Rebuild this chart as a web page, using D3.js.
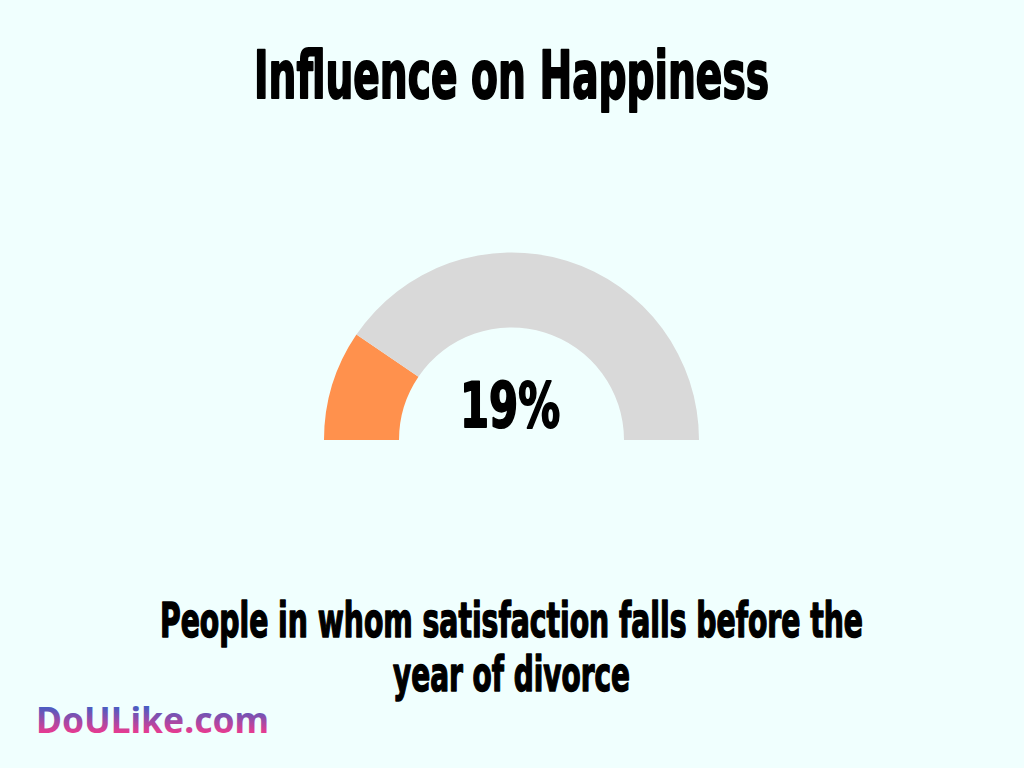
<!DOCTYPE html>
<html>
<head>
<meta charset="utf-8">
<script src="https://cdn.jsdelivr.net/npm/d3@7"></script>
<style>
html,body{margin:0;padding:0;background:#F0FFFE;}
svg{display:block;}
</style>
</head>
<body>
<svg id="chart" width="1024" height="768"></svg>
<script>
const title = "Influence on Happiness";
const value = [19];
const total = [100];
const valueLabel = ["19%"];
const subtitleLines = ["People in whom satisfaction falls before the", "year of divorce"];
const watermark = "DoULike.com";

const W = 1024, H = 768;
const svg = d3.select("#chart");
svg.append("rect").attr("width", W).attr("height", H).attr("fill", "#F0FFFE");

const FONT = "'Liberation Sans Narrow','DejaVu Sans Condensed','Arial Narrow',sans-serif";

// gauge
const cx = 511.5, cy = 440, rOuter = 187.5, rInner = 112.5;
const angle = d3.scaleLinear().domain([0, total[0]]).range([-Math.PI / 2, Math.PI / 2]);
const arc = d3.arc().innerRadius(rInner).outerRadius(rOuter);
const g = svg.append("g").attr("transform", `translate(${cx},${cy})`);
const segs = [
  {start: 0, end: value[0], color: "#FF914D"},
  {start: value[0], end: total[0], color: "#D9D9D9"}
];
g.selectAll("path").data(segs).join("path")
  .attr("d", d => arc({startAngle: angle(d.start), endAngle: angle(d.end)}))
  .attr("fill", d => d.color);

function heavy(sel, len, sw) {
  sel.attr("textLength", len).attr("lengthAdjust", "spacingAndGlyphs")
     .attr("stroke", "#000").attr("stroke-width", sw).attr("stroke-linejoin", "round");
}

// title
svg.append("text").attr("x", 511.5).attr("y", 98)
  .attr("text-anchor", "middle").attr("font-family", FONT).attr("font-weight", "bold")
  .attr("font-size", 65).attr("fill", "#000").text(title)
  .call(heavy, 515, 2);

// value label
svg.append("text").attr("x", 510).attr("y", 427)
  .attr("text-anchor", "middle").attr("font-family", FONT).attr("font-weight", "bold")
  .attr("font-size", 63).attr("fill", "#000").text(valueLabel[0])
  .call(heavy, 100, 2);

// subtitle
const subLens = [703, 237];
const subY = [637, 691];
subtitleLines.forEach((t, i) => {
  svg.append("text").attr("x", 511.5).attr("y", subY[i])
    .attr("text-anchor", "middle").attr("font-family", FONT).attr("font-weight", "bold")
    .attr("font-size", 48).attr("fill", "#000").text(t)
    .call(heavy, subLens[i], 1.5);
});

// watermark
const defs = svg.append("defs");
const grad = defs.append("linearGradient").attr("id", "wm").attr("x1", 0).attr("y1", 0).attr("x2", 0).attr("y2", 1);
grad.append("stop").attr("offset", "20%").attr("stop-color", "#3B5FC6");
grad.append("stop").attr("offset", "75%").attr("stop-color", "#E33C92");
svg.append("text").attr("x", 36).attr("y", 733)
  .attr("font-family", "'Noto Sans','Open Sans',sans-serif").attr("font-weight", "bold")
  .attr("font-size", 36).attr("fill", "url(#wm)").text(watermark)
  .attr("textLength", 233).attr("lengthAdjust", "spacingAndGlyphs");
</script>
</body>
</html>
